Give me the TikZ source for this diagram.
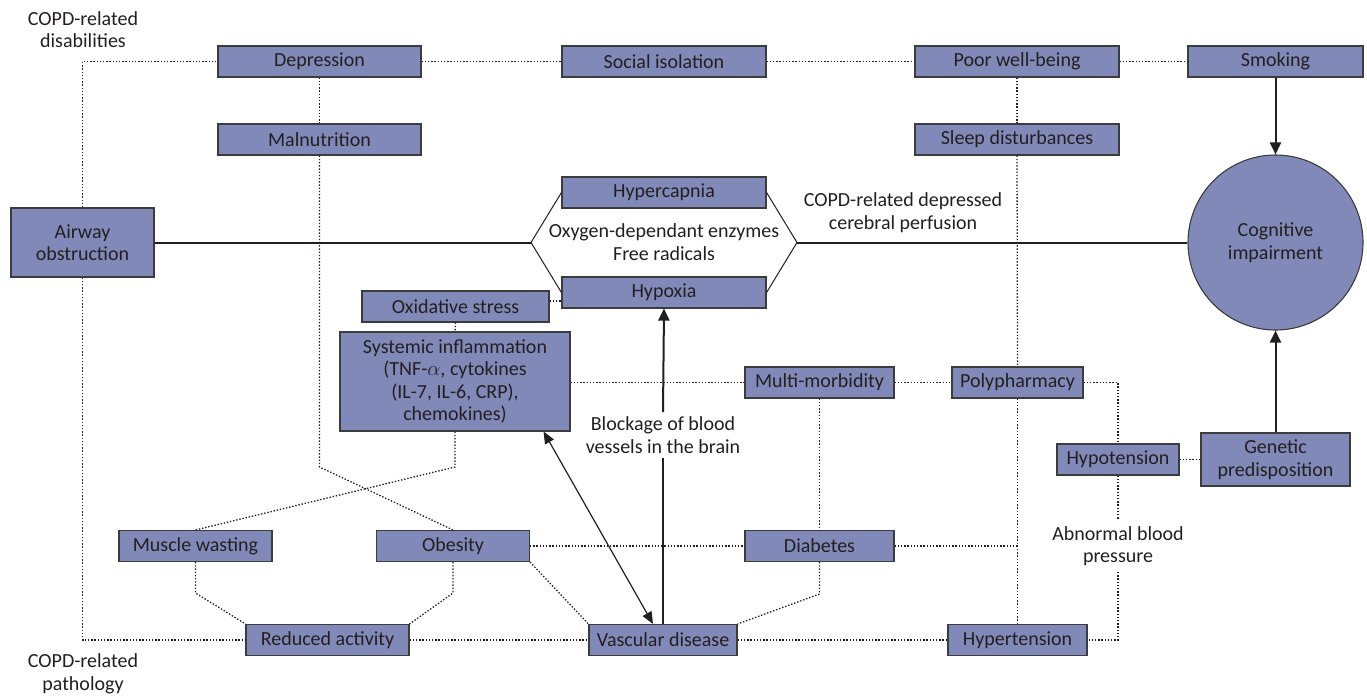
\documentclass[tikz,border=0pt]{standalone}
\usepackage{fontspec}
\setmainfont{Carlito}
\usetikzlibrary{arrows.meta,calc}
\definecolor{boxfill}{RGB}{129,137,185}
\definecolor{boxline}{RGB}{60,60,62}
\definecolor{ink}{RGB}{35,31,32}
\begin{document}
\begin{tikzpicture}[x=1pt,y=-1pt,
  every node/.style={font=\fontsize{20}{22.5}\selectfont, text=ink, align=center},
  box/.style={rectangle, draw=boxline, fill=boxfill, line width=1.1pt, inner sep=0pt, minimum height=31pt},
  lbl/.style={inner sep=2pt},
  dots/.style={draw=ink, line width=1.3pt, dash pattern=on 1.4pt off 1.8pt},
  solidln/.style={draw=ink, line width=1pt},
  thickln/.style={draw=ink, line width=2pt},
  arr/.style={-{Triangle[length=12pt,width=11pt]}},
]
\useasboundingbox (0,0) rectangle (1367,697);
% ---- nodes
\node[box, minimum width=203pt] (dep) at (319.5,61.5) {Depression};
\node[box, minimum width=204pt] (soc) at (664,61.5) {Social isolation};
\node[box, minimum width=204pt] (poor) at (1017,61.5) {Poor well-being};
\node[box, minimum width=175pt] (smok) at (1275.5,61.5) {Smoking};
\node[box, minimum width=203pt] (mal) at (319.5,139.5) {Malnutrition};
\node[box, minimum width=204pt] (sleep) at (1017,139.5) {Sleep disturbances};
\node[box, minimum width=143pt, minimum height=69pt] (air) at (82.5,242.5) {Airway\\obstruction};
\node[box, minimum width=204pt] (hcap) at (664,192.5) {Hypercapnia};
\node[box, minimum width=204pt] (hyp) at (664,292.5) {Hypoxia};
\node[lbl] (oxy) at (664,242) {Oxygen-dependant enzymes\\Free radicals};
\node[circle, draw=boxline, fill=boxfill, line width=1.1pt, minimum size=175pt, inner sep=0pt] (cog) at (1275.5,242.5) {Cognitive\\impairment};
\node[lbl] (perf) at (903,212.5) {COPD-related depressed\\cerebral perfusion};
\node[box, minimum width=187pt] (ox) at (455.5,306.5) {Oxidative stress};
\node[box, minimum width=230pt, minimum height=99pt] (sys) at (455,381.5) {Systemic inflammation\\(TNF-$\alpha$, cytokines\\(IL-7, IL-6, CRP),\\chemokines)};
\node[box, minimum width=149pt] (multi) at (819.5,382.5) {Multi-morbidity};
\node[box, minimum width=131pt] (poly) at (1017.5,382.5) {Polypharmacy};
\node[inner sep=4.5pt] (blk) at (663,435) {Blockage of blood\\vessels in the brain};
\node[box, minimum width=122pt] (hypot) at (1118,459.5) {Hypotension};
\node[box, minimum width=149pt, minimum height=53pt] (gen) at (1275.5,459.5) {Genetic\\predisposition};
\node[box, minimum width=153pt] (musc) at (195.5,546) {Muscle wasting};
\node[box, minimum width=153pt] (obes) at (453,546) {Obesity};
\node[box, minimum width=149pt] (diab) at (819.5,546) {Diabetes};
\node[inner sep=6pt] (abn) at (1118,546) {Abnormal blood\\pressure};
\node[box, minimum width=163pt] (red) at (327.5,640) {Reduced activity};
\node[box, minimum width=148pt] (vasc) at (663,640) {Vascular disease};
\node[box, minimum width=139pt] (hyper) at (1017.5,640) {Hypertension};
\node[lbl] (disab) at (83,29.5) {COPD-related\\disabilities};
\node[lbl] (path) at (83,674) {COPD-related\\pathology};
% ---- helper coordinates
\coordinate (hl) at (531,242.5);
\coordinate (hr) at (797,242.5);
\coordinate (m1) at (319.5,467);
\coordinate (s1) at (455,467);
\coordinate (d1) at (819.5,594);
\coordinate (o1) at (453,593);
\coordinate (w1) at (195.5,593);
\coordinate (j1) at (poly.south |- diab.east);
% ---- dotted connectors
\path[dots] (air.north) |- (dep.west);
\path[dots] (dep.east) -- (soc.west);
\path[dots] (soc.east) -- (poor.west);
\path[dots] (poor.east) -- (smok.west);
\path[dots] (dep.south) -- (mal.north);
\path[dots] (poor.south) -- (sleep.north);
\path[dots] (sleep.south) -- (poly.north);
\path[dots] (poly.south) -- (hyper.north);
\path[dots] (mal.south) -- (m1) -- (obes.north);
\path[dots] (sys.south) -- (s1) -- (musc.north);
\path[dots] (ox.south) -- (sys.north);
\path[dots] ([yshift=5.5pt]ox.east) -- ([yshift=5.5pt]ox.east -| hyp.west);
\path[dots] (sys.east |- multi.west) -- (multi.west);
\path[dots] (multi.east) -- (poly.west);
\path[dots] (multi.south) -- (diab.north);
\path[dots] (diab.south) -- (d1) -- (vasc.north east);
\path[dots] (obes.east) -- (diab.west);
\path[dots] (diab.east) -- (j1);
\path[dots] (obes.south east) -- (vasc.north west);
\path[dots] (obes.south) -- (o1) -- (red.north east);
\path[dots] (musc.south) -- (w1) -- (red.north west);
\path[dots] (air.south) |- (red.west);
\path[dots] (red.east) -- (vasc.west);
\path[dots] (vasc.east) -- (hyper.west);
\path[dots] (poly.east) -| (hypot.north);
\path[dots] (hypot.south) -- (abn.north);
\path[dots] (abn.south) |- (hyper.east);
\path[dots] (hypot.east) -- (gen.west);
% ---- solid connectors
\path[thickln] (air.east) -- (hl);
\path[solidln] (hcap.west) -- (hl) -- (hyp.west);
\path[solidln] (hcap.east) -- (hr) -- (hyp.east);
\path[thickln] (hr) -- (cog.west);
\path[thickln, arr] (smok.south) -- (cog.north);
\path[thickln, arr] (gen.north) -- (cog.south);
\path[thickln] (vasc.north) -- (blk.south);
\path[thickln, arr] (blk.north) -- (hyp.south);
\path[draw=ink, line width=1.2pt, {Triangle[length=12pt,width=10pt]}-{Triangle[length=12pt,width=10pt]}] ([xshift=-27pt]sys.south east) -- ([xshift=-10pt]vasc.north);
\end{tikzpicture}
\end{document}
